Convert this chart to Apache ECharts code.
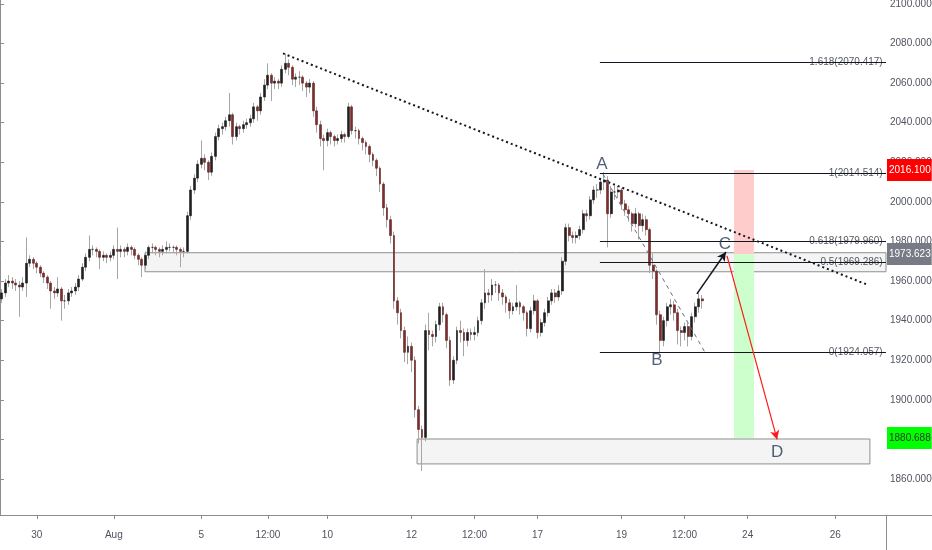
<!DOCTYPE html>
<html><head><meta charset="utf-8">
<script src="https://cdn.jsdelivr.net/npm/echarts@6/dist/echarts.min.js"></script>
<style>html,body{margin:0;padding:0;background:#fff}#c{width:932px;height:550px}</style>
</head><body><div id="c"></div>
<script>
const FONT = "'Liberation Sans Narrow','Arial Narrow','Liberation Sans',Arial,sans-serif";

// [open, close, low, high] per 2h bar
const candles = [
[1951,1954,1949,1956],[1954,1959,1952,1961],[1959,1960,1957,1963],[1960,1959,1956,1962],[1959,1958,1955,1961],
[1958,1957,1942,1960],[1957,1959,1955,1962],[1959,1969,1952,1982],[1969,1971,1967,1973],[1971,1969,1966,1972],
[1969,1967,1964,1970],[1967,1964,1962,1968],[1964,1962,1959,1965],[1962,1959,1956,1963],[1959,1955,1946,1960],
[1955,1954,1951,1957],[1954,1956,1952,1962],[1956,1950,1940,1957],[1950,1950,1946,1953],[1950,1954,1948,1956],
[1954,1955,1952,1957],[1955,1957,1953,1959],[1957,1961,1955,1963],[1961,1967,1960,1969],[1967,1972,1965,1974],
[1972,1976,1970,1983],[1976,1976,1973,1978],[1976,1975,1972,1977],[1975,1972,1966,1976],[1972,1973,1970,1975],
[1973,1972,1969,1974],[1972,1973,1970,1975],[1973,1976,1971,1978],[1976,1975,1961,1987],[1975,1976,1972,1978],
[1976,1975,1972,1977],[1975,1977,1973,1979],[1977,1976,1973,1978],[1976,1973,1971,1977],[1973,1971,1968,1974],
[1971,1968,1962,1972],[1968,1973,1966,1975],[1973,1977,1971,1978],[1977,1977,1974,1979],[1977,1976,1973,1978],
[1976,1975,1972,1977],[1975,1976,1973,1978],[1976,1977,1974,1980],[1977,1977,1975,1979],[1977,1977,1974,1978],
[1977,1976,1973,1978],[1976,1975,1967,1977],[1975,1975,1972,1977],[1975,1993,1974,1995],[1993,2006,1991,2008],
[2006,2012,2004,2014],[2012,2019,2010,2021],[2019,2022,2017,2031],[2022,2020,2016,2024],[2020,2015,2011,2021],
[2015,2023,2013,2025],[2023,2033,2021,2035],[2033,2037,2031,2039],[2037,2038,2034,2040],[2038,2041,2036,2043],
[2041,2044,2038,2055],[2044,2033,2029,2045],[2033,2038,2031,2040],[2038,2037,2034,2039],[2037,2039,2035,2041],
[2039,2040,2037,2042],[2040,2042,2038,2044],[2042,2048,2040,2050],[2048,2046,2041,2049],[2046,2053,2044,2055],
[2053,2059,2051,2062],[2059,2064,2057,2070],[2064,2060,2051,2065],[2060,2061,2057,2063],[2061,2060,2057,2062],
[2060,2067,2058,2069],[2067,2070,2065,2075],[2070,2068,2064,2072],[2068,2062,2059,2069],[2062,2063,2058,2065],
[2063,2063,2059,2066],[2063,2060,2056,2064],[2060,2058,2053,2061],[2058,2060,2055,2062],[2060,2046,2043,2061],
[2046,2039,2035,2048],[2039,2032,2028,2041],[2032,2031,2016,2034],[2031,2035,2028,2037],[2035,2033,2029,2036],
[2033,2031,2028,2034],[2031,2032,2029,2034],[2032,2034,2030,2036],[2034,2033,2030,2035],[2033,2048,2032,2050],
[2048,2036,2034,2049],[2036,2036,2032,2038],[2036,2032,2029,2037],[2032,2030,2026,2033],[2030,2028,2024,2031],
[2028,2024,2020,2029],[2024,2021,2018,2025],[2021,2017,2013,2022],[2017,2009,2005,2018],[2009,1997,1993,2010],
[1997,1991,1987,1999],[1991,1983,1979,1993],[1983,1950,1946,1985],[1950,1944,1938,1952],[1944,1935,1931,1946],
[1935,1924,1919,1937],[1924,1927,1918,1932],[1927,1920,1914,1929],[1920,1895,1891,1922],[1895,1885,1878,1897],
[1885,1881,1864,1887],[1881,1935,1879,1938],[1935,1933,1925,1944],[1933,1932,1927,1935],[1932,1938,1929,1940],
[1938,1947,1935,1949],[1947,1943,1939,1949],[1943,1930,1926,1944],[1930,1910,1907,1932],[1910,1920,1908,1922],
[1920,1935,1918,1937],[1935,1934,1929,1940],[1934,1930,1922,1936],[1930,1934,1927,1936],[1934,1933,1930,1936],
[1933,1934,1930,1937],[1934,1940,1932,1942],[1940,1949,1938,1951],[1949,1954,1946,1966],[1954,1953,1949,1956],
[1953,1958,1950,1961],[1958,1958,1954,1960],[1958,1954,1950,1959],[1954,1952,1948,1956],[1952,1949,1944,1953],
[1949,1945,1941,1951],[1945,1947,1943,1949],[1947,1949,1945,1958],[1949,1947,1943,1950],[1947,1944,1940,1948],
[1944,1936,1932,1945],[1936,1945,1934,1947],[1945,1950,1943,1953],[1950,1934,1931,1951],[1934,1939,1932,1941],
[1939,1944,1937,1946],[1944,1950,1942,1952],[1950,1954,1948,1956],[1954,1952,1949,1956],[1952,1955,1950,1958],
[1955,1970,1953,1972],[1970,1987,1968,1989],[1987,1983,1980,1989],[1983,1982,1979,1985],[1982,1983,1979,1985],
[1983,1986,1981,1988],[1986,1994,1984,1996],[1994,1993,1990,1996],[1993,2001,1991,2003],[2001,2006,1999,2008],
[2006,2006,2002,2009],[2006,2010,2004,2012],[2010,2011,2006,2015],[2011,1994,1977,2013],[1994,2005,1992,2008],
[2005,2005,2001,2008],[2005,2006,2002,2008],[2006,1999,1996,2007],[1999,1996,1993,2001],[1996,1994,1990,1998],
[1994,1989,1985,1995],[1989,1994,1987,1997],[1994,1988,1981,1995],[1988,1991,1985,1994],[1991,1986,1983,1993],
[1986,1968,1964,1987],[1968,1965,1961,1974],[1965,1943,1938,1966],[1943,1930,1924.1,1945],[1930,1940,1927,1942],
[1940,1947,1937,1949],[1947,1948,1943,1951],[1948,1944,1940,1950],[1944,1935,1928,1946],[1935,1934,1927,1937],
[1934,1937,1930,1939],[1937,1932,1927,1939],[1932,1942,1930,1944],[1942,1947,1939,1949],[1947,1951,1944,1954],
[1951,1950,1946,1953]
];

const slotCount = 253;                 // bar slots across the plot (incl. future space)
const tickIdx  = [10, 32, 57, 76, 93, 117, 135, 153, 177, 195, 213, 238];
const tickText = ['30','Aug','5','12:00','10','12','12:00','17','19','12:00','24','26'];
const yMin = 1841.8, yMax = 2102;

const fibLevels = [2070.417, 2014.514, 1979.960, 1969.286, 1924.057];
const fibNames  = ['1.618', '1', '0.618', '0.5', '0'];
const fibFromX = 171.3, fibToX = 253;

const priceTags   = [2016.100, 1973.623, 1880.688];
const priceColors = ['#ff0000', '#787b86', '#00ff00'];
const priceText   = ['#ffffff', '#ffffff', '#2b3a2b'];

const zoneUpper = [[41.4, 1974.3], [253, 1964.7]];
const zoneLower = [[119.1, 1880.2], [248.4, 1867.6]];
const riskBox   = [[209.6, 2016.1], [215.3, 1973.6]];
const rewardBox = [[209.6, 1973.6], [215.3, 1880.7]];
const trendLine = [[80.8, 2075], [247.9, 1958]];
const abLine    = [[172.2, 2014], [201.3, 1924]];
const toC       = [[199.0, 1953.5], [207.3, 1974.7]];
const toD       = [[207.6, 1972.7], [221.9, 1880]];
const pointLabels = [[171.9, 2019.0, 'A'], [187.6, 1919.8, 'B'], [207.0, 1978.4, 'C'], [221.9, 1873.4, 'D']];

const categories = Array.from({length: slotCount}, (_, i) => String(i));
const bodies = candles.map(([o, c]) => [o, c, Math.min(o, c), Math.max(o, c)]);

const chart = echarts.init(document.getElementById('c'), null, {renderer: 'canvas'});
const axisGray = '#8c8c8c';
const on20 = v => Math.abs(v / 20 - Math.round(v / 20)) < 1e-6;

chart.setOption({
  animation: false,
  backgroundColor: '#ffffff',
  grid: {left: 0, right: 46, top: 0, bottom: 35, containLabel: false, outerBoundsMode: 'none'},
  xAxis: [{
    type: 'category', data: categories, boundaryGap: true,
    axisLine: {lineStyle: {color: axisGray}},
    axisTick: {show: true, alignWithLabel: true, length: 4, interval: i => tickIdx.includes(i), lineStyle: {color: axisGray}},
    axisLabel: {interval: i => tickIdx.includes(i), formatter: v => { const k = tickIdx.indexOf(Number(v)); return k >= 0 ? tickText[k] : ''; },
      margin: 15, fontFamily: FONT, fontSize: 10, color: '#50535e'},
    splitLine: {show: false}
  }, {
    type: 'value', min: 0, max: slotCount, show: false
  }],
  yAxis: [{
    type: 'value', position: 'right', min: yMin, max: yMax, splitNumber: 13, minInterval: 20, maxInterval: 20,
    axisLine: {show: true, lineStyle: {color: axisGray}},
    axisTick: {show: true, length: 4, lineStyle: {color: axisGray}},
    axisLabel: {showMinLabel: false, showMaxLabel: false, formatter: v => on20(v) ? v.toFixed(3) : '',
      margin: 4, fontFamily: FONT, fontSize: 10, color: '#50535e'},
    splitLine: {show: false}
  }],
  graphic: [
    {type: 'line', shape: {x1: 886.5, y1: 515, x2: 886.5, y2: 550}, style: {stroke: axisGray, lineWidth: 1}},
    {type: 'line', shape: {x1: 886, y1: 515.5, x2: 932, y2: 515.5}, style: {stroke: axisGray, lineWidth: 1}}
  ],
  series: [
    {
      type: 'scatter', xAxisIndex: 1, yAxisIndex: 0, data: [], z: 1, silent: true,
      markArea: {
        silent: true,
        data: [
          [{coord: zoneUpper[0], itemStyle: {color: '#f4f4f4', borderColor: '#8f8f8f', borderWidth: 1}}, {coord: zoneUpper[1]}],
          [{coord: zoneLower[0], itemStyle: {color: '#f4f4f4', borderColor: '#8f8f8f', borderWidth: 1}}, {coord: zoneLower[1]}],
          [{coord: riskBox[0], itemStyle: {color: '#ffcccc', borderWidth: 0}}, {coord: riskBox[1]}],
          [{coord: rewardBox[0], itemStyle: {color: '#ccffcc', borderWidth: 0}}, {coord: rewardBox[1]}]
        ]
      }
    },
    {
      name: 'wick', type: 'candlestick', xAxisIndex: 0, yAxisIndex: 0, data: candles, barWidth: 1, z: 2, silent: true,
      itemStyle: {color: '#a6a6a6', color0: '#a6a6a6', borderColor: '#a6a6a6', borderColor0: '#a6a6a6', borderWidth: 1}
    },
    {
      name: 'body', type: 'candlestick', xAxisIndex: 0, yAxisIndex: 0, data: bodies, barWidth: 2.4, z: 3, silent: true,
      itemStyle: {color: '#1f1f1f', color0: '#7a2e2e', borderColor: '#1f1f1f', borderColor0: '#6a2424', borderWidth: 0.6}
    },
    {
      type: 'scatter', xAxisIndex: 1, yAxisIndex: 0, z: 4, silent: true,
      symbolSize: 1, itemStyle: {color: 'rgba(0,0,0,0)'},
      data: fibLevels.map((v, k) => [fibToX - 0.8, v, fibNames[k] + '(' + v.toFixed(3) + ')']),
      label: {show: true, position: 'left', distance: 0, formatter: p => p.value[2], fontFamily: FONT, fontSize: 10, color: '#2a2e39'},
      markLine: {
        silent: true, symbol: ['none', 'none'], label: {show: false},
        data: fibLevels.map(v => [{coord: [fibFromX, v], lineStyle: {color: '#131722', width: 1, type: 'solid'}}, {coord: [fibToX, v]}]).concat([
          [{coord: trendLine[0], lineStyle: {color: '#131722', width: 2, type: [2, 3]}}, {coord: trendLine[1]}],
          [{coord: abLine[0], lineStyle: {color: '#6a6d78', width: 1, type: [4, 4]}}, {coord: abLine[1]}],
          [{coord: toC[0], symbol: 'none', lineStyle: {color: '#131722', width: 1.5, type: 'solid'}}, {coord: toC[1], symbol: 'arrow', symbolSize: [7, 9]}],
          [{coord: toD[0], symbol: 'none', lineStyle: {color: '#ff1a1a', width: 1.2, type: 'solid'}}, {coord: toD[1], symbol: 'arrow', symbolSize: [7, 9]}]
        ])
      }
    },
    {
      type: 'scatter', xAxisIndex: 1, yAxisIndex: 0, z: 5, silent: true,
      symbolSize: 1, itemStyle: {color: 'rgba(0,0,0,0)'},
      data: pointLabels,
      label: {show: true, position: 'inside', formatter: p => p.value[2], fontFamily: FONT, fontSize: 17, color: '#263859'},
      markLine: {
        silent: true, symbol: ['none', 'none'],
        lineStyle: {color: 'rgba(0,0,0,0)', width: 1},
        data: priceTags.map((v, k) => ({
          yAxis: v,
          label: {show: true, position: 'end', distance: 1, formatter: () => v.toFixed(3),
            backgroundColor: priceColors[k], color: priceText[k], padding: [6, 1, 6, 2],
            fontFamily: FONT, fontSize: 10}
        }))
      }
    }
  ]
});
</script>
</body></html>
